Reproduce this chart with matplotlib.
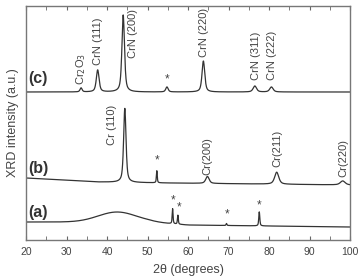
import numpy as np
import matplotlib
matplotlib.use("Agg")
import matplotlib.pyplot as plt
from matplotlib.ticker import MultipleLocator

plt.rcParams['font.family'] = ['Liberation Sans', 'DejaVu Sans']

# ---- data ----
# baselines: control points (2theta, intensity)
base_c_x = [20, 100]
base_c_y = [148, 148]
base_b_x = [20, 38, 55, 100]
base_b_y = [62, 58, 57, 55]
base_a_x = [20, 50, 60, 100]
base_a_y = [18, 18, 15, 13]

# peaks: position (deg), height, FWHM (deg)
peaks_c_pos = [33.6, 37.7, 44.0, 54.8, 63.8, 76.5, 80.6]
peaks_c_h   = [4, 22, 77, 5, 31, 6, 5]
peaks_c_w   = [0.6, 0.8, 0.75, 0.7, 0.8, 1.0, 1.0]

peaks_b_pos = [44.4, 52.3, 64.8, 81.9, 98.2]
peaks_b_h   = [74, 12, 7, 12, 4]
peaks_b_w   = [0.7, 0.25, 1.0, 1.2, 1.4]

peaks_a_pos = [42.5, 56.2, 57.5, 69.5, 77.6]
peaks_a_h   = [10, 15, 9, 2, 14]
peaks_a_w   = [11.0, 0.25, 0.25, 0.25, 0.3]

labels_c = ["Cr$_2$O$_3$", "CrN (111)", "CrN (200)", "CrN (220)", "CrN (311)", "CrN (222)"]
labels_c_x = [33.6, 37.8, 46.4, 63.9, 76.8, 80.7]
labels_c_y = [155, 175, 182, 183, 160, 160]

labels_b = ["Cr (110)", "Cr(200)", "Cr(211)", "Cr(220)"]
labels_b_x = [41.2, 64.7, 82.0, 98.3]
labels_b_y = [95, 65, 73, 63]

stars_x = [54.8, 52.3, 56.3, 57.9, 69.6, 77.6]
stars_y = [161, 80, 40, 33, 26, 35]

series_names = ["(c)", "(b)", "(a)"]
series_label_y = [162, 72, 28]

x = np.arange(20, 100.001, 0.05)

def pattern(bx, by, pos, h, w):
    y = np.interp(x, bx, by)
    for p, hh, ww in zip(pos, h, w):
        if ww > 5:
            s = ww / 2.355
            y = y + hh * np.exp(-0.5 * ((x - p) / s) ** 2)
        else:
            g = ww / 2
            lor = g**2 / ((x - p)**2 + g**2)
            gau = np.exp(-4 * np.log(2) * ((x - p) / ww) ** 2)
            y = y + hh * (0.6 * lor + 0.4 * gau)
    return y

yc = pattern(base_c_x, base_c_y, peaks_c_pos, peaks_c_h, peaks_c_w)
yb = pattern(base_b_x, base_b_y, peaks_b_pos, peaks_b_h, peaks_b_w)
ya = pattern(base_a_x, base_a_y, peaks_a_pos, peaks_a_h, peaks_a_w)

fig = plt.figure(figsize=(3.61, 2.79), dpi=100)
ax = fig.add_axes([26/361, 39/279, 324/361, 234/279])
lc = '#333333'
for yy in (yc, yb, ya):
    ax.plot(x, yy, color=lc, lw=0.9)

ax.set_xlim(20, 100)
ax.set_ylim(0, 234)

tc = '#444444'
for t, lx, ly in zip(labels_c, labels_c_x, labels_c_y):
    ax.text(lx, ly, t, rotation=90, ha='center', va='bottom', fontsize=8, color=tc)
for t, lx, ly in zip(labels_b, labels_b_x, labels_b_y):
    ax.text(lx, ly, t, rotation=90, ha='center', va='bottom', fontsize=8, color=tc)
for sx, sy in zip(stars_x, stars_y):
    ax.text(sx, sy, "*", ha='center', va='center', fontsize=8.5, color=tc)
for n, ly in zip(series_names, series_label_y):
    ax.text(20.5, ly, n, ha='left', va='center', fontsize=11.5, fontweight='bold', color='#333333')

ax.set_xlabel("2θ (degrees)", fontsize=9, color=tc, labelpad=5)
ax.set_ylabel("XRD intensity (a.u.)", fontsize=9, color=tc, labelpad=5)
ax.xaxis.set_major_locator(MultipleLocator(10))
ax.xaxis.set_minor_locator(MultipleLocator(5))
ax.tick_params(axis='x', which='both', direction='in', top=True, labelsize=7.5,
               labelcolor=tc, color='#666666', length=3, pad=5)
ax.tick_params(axis='y', left=False, labelleft=False)
for s in ax.spines.values():
    s.set_color('#777777')
    s.set_linewidth(1.0)

fig.savefig("out.png", dpi=100)
